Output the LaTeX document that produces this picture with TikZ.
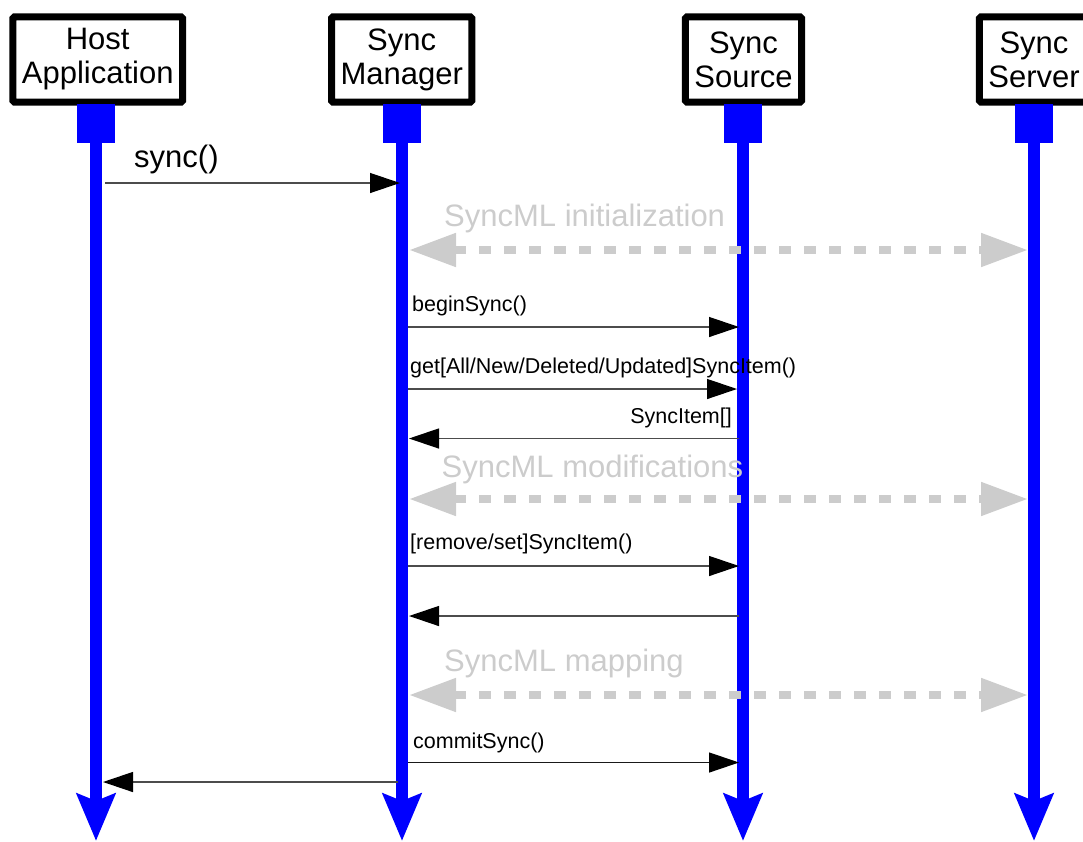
\documentclass[tikz,border=0pt]{standalone}
\usepackage{fontspec}
\setmainfont{Liberation Sans}
\usetikzlibrary{arrows.meta}
\definecolor{lblue}{RGB}{0,0,255}
\definecolor{lgray}{RGB}{204,204,204}
\begin{document}
\begin{tikzpicture}[x=1pt,y=-1pt,
  hdr/.style={draw=black, line width=7pt, rounded corners=1.5pt, fill=white, align=center,
    inner xsep=9pt, inner ysep=0pt, minimum height=85.3pt, font=\fontsize{31}{34}\selectfont},
  act/.style={fill=lblue, minimum width=38pt, minimum height=39pt, inner sep=0pt, draw=none},
  life/.style={draw=lblue, line width=12pt, -{Stealth[length=47pt,width=38pt,inset=7pt]}},
  msg/.style={draw=black!70, line width=1.3pt, -{Triangle[length=30pt,width=20pt,black]}},
  proto/.style={draw=lgray, line width=8pt, dash pattern=on 12pt off 13pt,
    {Triangle[length=47pt,width=32pt]}-{Triangle[length=47pt,width=32pt]}},
  big/.style={font=\fontsize{31}{34}\selectfont, inner sep=0pt, anchor=base west},
  small/.style={font=\fontsize{21.5}{24}\selectfont, inner sep=0pt, anchor=base west},
]
\useasboundingbox (0,0) rectangle (1083,841);
% headers
\node[hdr] (hostbox) at (97.7,59.5) {Host\\Application};
\node[hdr] (mgrbox) at (401.7,59.5) {Sync\\Manager};
\node[hdr] (srcbox) at (743.5,59.5) {Sync\\Source};
\node[hdr] (srvbox) at (1034,59.5) {Sync\\Server};
% activation blocks
\node[act] (hostact) at (96,123.5) {};
\node[act] (mgract) at (402,123.5) {};
\node[act] (srcact) at (743,123.5) {};
\node[act] (srvact) at (1034,123.5) {};
% lifelines
\coordinate (hostend) at (96,841);
\coordinate (mgrend) at (402,841);
\coordinate (srcend) at (743,841);
\coordinate (srvend) at (1034,841);
\draw[life] (hostact.south) -- (hostend);
\draw[life] (mgract.south) -- (mgrend);
\draw[life] (srcact.south) -- (srcend);
\draw[life] (srvact.south) -- (srvend);
% sync()
\coordinate (a1s) at (105,183);
\coordinate (a1e) at (400,183);
\draw[msg] (a1s) -- (a1e);
\node[big] (t1) at (134,167) {sync()};
% SyncML initialization
\coordinate (p1s) at (409,250);
\coordinate (p1e) at (1028,250);
\draw[proto] (p1s) -- (p1e);
\node[big, text=lgray] (t2) at (444,226) {SyncML initialization};
% beginSync
\coordinate (a2s) at (408,327);
\coordinate (a2e) at (739,327);
\draw[msg] (a2s) -- (a2e);
\node[small] (t3) at (412,311.5) {beginSync()};
% get...
\coordinate (a3s) at (408,389);
\coordinate (a3e) at (737,389);
\draw[msg] (a3s) -- (a3e);
\node[small] (t4) at (410,373) {get[All/New/Deleted/Updated]SyncItem()};
% SyncItem[]
\coordinate (a4s) at (739,438.5);
\coordinate (a4e) at (409,438.5);
\draw[msg] (a4s) -- (a4e);
\node[small, anchor=base east] (t5) at (732,423) {SyncItem[]};
% SyncML modifications
\coordinate (p2s) at (409,499);
\coordinate (p2e) at (1028,499);
\draw[proto] (p2s) -- (p2e);
\node[big, text=lgray] (t6) at (441.5,477) {SyncML modifications};
% remove/set
\coordinate (a5s) at (408,566);
\coordinate (a5e) at (739,566);
\draw[msg] (a5s) -- (a5e);
\node[small] (t7) at (410,549) {[remove/set]SyncItem()};
% return
\coordinate (a6s) at (739,616);
\coordinate (a6e) at (409,616);
\draw[msg] (a6s) -- (a6e);
% SyncML mapping
\coordinate (p3s) at (409,695);
\coordinate (p3e) at (1028,695);
\draw[proto] (p3s) -- (p3e);
\node[big, text=lgray] (t8) at (444,671.5) {SyncML mapping};
% commitSync
\coordinate (a7s) at (408,762.5);
\coordinate (a7e) at (739,762.5);
\draw[msg, draw=black!90] (a7s) -- (a7e);
\node[small] (t9) at (413,748) {commitSync()};
% return to host
\coordinate (a8s) at (398,782);
\coordinate (a8e) at (103,782);
\draw[msg] (a8s) -- (a8e);
\end{tikzpicture}
\end{document}
